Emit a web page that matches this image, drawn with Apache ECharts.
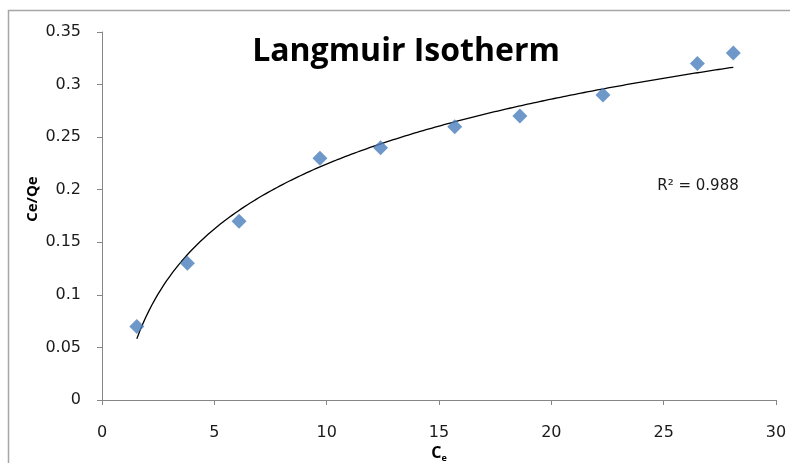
<!DOCTYPE html>
<html>
<head>
<meta charset="utf-8">
<script src="https://cdn.jsdelivr.net/npm/echarts@6/dist/echarts.min.js"></script>
<style>html,body{margin:0;padding:0;background:#fff}#c{width:790px;height:463px}</style>
</head>
<body>
<div id="c"></div>
<script>
// Data
const ceValues = [1.55, 3.8, 6.1, 9.7, 12.4, 15.7, 18.6, 22.3, 26.5, 28.1];
const ceQeValues = [0.07, 0.13, 0.17, 0.23, 0.24, 0.26, 0.27, 0.29, 0.32, 0.33];
const xTicks = [0, 5, 10, 15, 20, 25, 30];
const yTicks = [0, 0.05, 0.1, 0.15, 0.2, 0.25, 0.3, 0.35];
const rSquaredText = 'R² = 0.988';
const titleText = 'Langmuir Isotherm';

// Logarithmic least-squares trendline (as in the spreadsheet), fitted to the data
const lnx = ceValues.map(v => Math.log(v));
const n = lnx.length;
const mx = lnx.reduce((a, b) => a + b, 0) / n;
const my = ceQeValues.reduce((a, b) => a + b, 0) / n;
let sxy = 0, sxx = 0;
for (let i = 0; i < n; i++) { sxy += (lnx[i] - mx) * (ceQeValues[i] - my); sxx += (lnx[i] - mx) ** 2; }
const slope = sxy / sxx, intercept = my - slope * mx;
const xmin = Math.min(...ceValues), xmax = Math.max(...ceValues);
const trend = [];
for (let k = 0; k <= 200; k++) {
  const x = xmin + (xmax - xmin) * k / 200;
  trend.push([x, slope * Math.log(x) + intercept]);
}

const font = '"DejaVu Sans", sans-serif';
const boldFont = '"Open Sans", "Noto Sans", sans-serif';
const chart = echarts.init(document.getElementById('c'));
chart.setOption({
  animation: false,
  backgroundColor: '#fff',
  grid: { left: 102, right: 14, top: 32, bottom: 63, containLabel: false, outerBoundsMode: 'none' },
  title: {
    text: titleText, left: 401, top: 31, textAlign: 'center',
    textStyle: { fontFamily: boldFont, fontWeight: 'bold', fontSize: 32, color: '#000' }
  },
  xAxis: {
    type: 'value', min: xTicks[0], max: xTicks[xTicks.length - 1], interval: 5,
    splitLine: { show: false },
    axisLine: { lineStyle: { color: '#868686', width: 1 } },
    axisTick: { show: true, length: 5, lineStyle: { color: '#868686' } },
    axisLabel: { margin: 25, fontSize: 16, color: '#1a1a1a', fontFamily: font },
    name: '{c|C}{e|e}', nameLocation: 'middle', nameGap: 42,
    nameTextStyle: {
      rich: {
        c: { fontSize: 16, fontWeight: 'bold', color: '#000', fontFamily: boldFont },
        e: { fontSize: 9, fontWeight: 'bold', color: '#000', fontFamily: boldFont, padding: [9, 0, 0, 0] }
      }
    }
  },
  yAxis: {
    type: 'value', min: yTicks[0], max: yTicks[yTicks.length - 1], interval: 0.05,
    splitLine: { show: false },
    axisLine: { show: true, lineStyle: { color: '#868686', width: 1 } },
    axisTick: { show: true, length: 5, lineStyle: { color: '#868686' } },
    axisLabel: { margin: 21, fontSize: 16, color: '#1a1a1a', fontFamily: font,
      formatter: v => String(+v.toFixed(2)) }
  },
  graphic: [
    { type: 'rect', shape: { x: 8.5, y: 10.5, width: 800, height: 480 }, style: { fill: 'none', stroke: '#a6a6a6', lineWidth: 1.5 }, z: -1 },
    { type: 'text', x: 33, y: 199, rotation: Math.PI / 2,
      style: { text: 'Ce/Qe', fontSize: 15, fontWeight: 'bold', fill: '#000', fontFamily: boldFont, align: 'center', verticalAlign: 'middle' } },
    { type: 'text', x: 698, y: 186,
      style: { text: rSquaredText, fontSize: 15, fill: '#1a1a1a', fontFamily: font, align: 'center', verticalAlign: 'middle' } }
  ],
  series: [
    { type: 'line', data: trend, showSymbol: false, symbol: 'none', smooth: false,
      lineStyle: { color: '#000', width: 1.3 }, z: 2, silent: true },
    { type: 'scatter', data: ceValues.map((x, i) => [x, ceQeValues[i]]), symbol: 'diamond', symbolSize: [15, 15],
      itemStyle: { color: '#4a7ebb' }, z: 3 }
  ]
});
</script>
</body>
</html>
